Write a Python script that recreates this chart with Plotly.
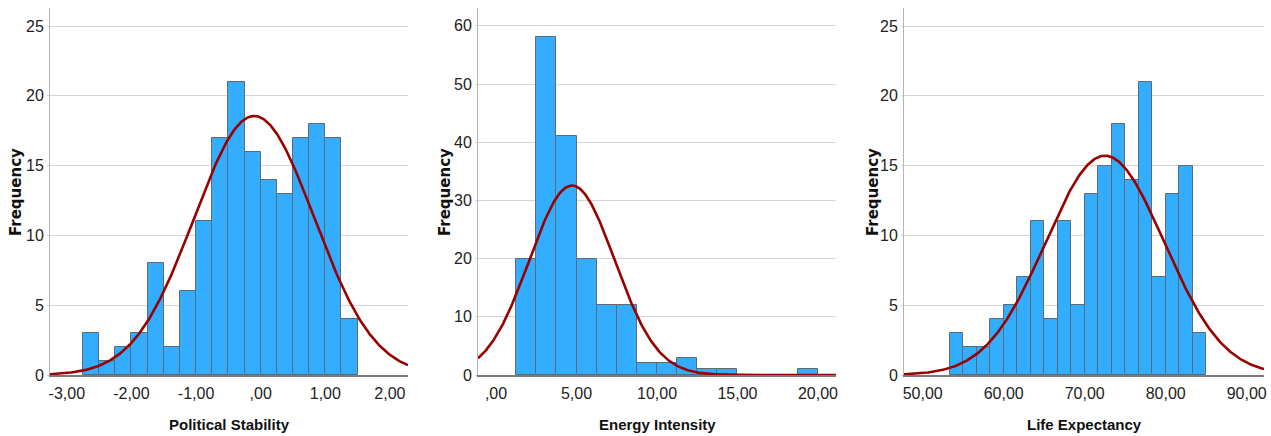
import numpy as np
import plotly.graph_objects as go

# ---------------- data ----------------
ps_counts = [3, 1, 2, 3, 8, 2, 6, 11, 17, 21, 16, 14, 13, 17, 18, 17, 4]
ps_bin_start = -2.75
ps_bin_width = 0.25
ps_mean, ps_sd = -0.10, 0.93

ei_counts = [20, 58, 41, 20, 12, 12, 2, 2, 3, 1, 1, 0, 0, 0, 1]
ei_bin_start = 1.25
ei_bin_width = 1.25
ei_mean, ei_sd = 4.72, 2.65

le_counts = [3, 2, 2, 4, 5, 7, 11, 4, 11, 5, 13, 15, 18, 14, 21, 7, 13, 15, 3]
le_bin_start = 53.37
le_bin_width = 1.664
le_mean, le_sd = 72.5, 7.31

ps_xticks = [-3, -2, -1, 0, 1, 2]
ps_xtext = ["-3,00", "-2,00", "-1,00", ",00", "1,00", "2,00"]
ei_xticks = [0, 5, 10, 15, 20]
ei_xtext = [",00", "5,00", "10,00", "15,00", "20,00"]
le_xticks = [50, 60, 70, 80, 90]
le_xtext = ["50,00", "60,00", "70,00", "80,00", "90,00"]

titles = ["Political Stability", "Energy Intensity", "Life Expectancy"]

panels = [
    dict(counts=ps_counts, start=ps_bin_start, w=ps_bin_width, mean=ps_mean, sd=ps_sd,
         xr=[-3.26, 2.28], yr=[0, 26.29], yt=[0, 5, 10, 15, 20, 25],
         xt=ps_xticks, xtt=ps_xtext, dom=[50, 408]),
    dict(counts=ei_counts, start=ei_bin_start, w=ei_bin_width, mean=ei_mean, sd=ei_sd,
         xr=[-1.12, 21.12], yr=[0, 63.06], yt=[0, 10, 20, 30, 40, 50, 60],
         xt=ei_xticks, xtt=ei_xtext, dom=[478, 836]),
    dict(counts=le_counts, start=le_bin_start, w=le_bin_width, mean=le_mean, sd=le_sd,
         xr=[47.69, 92.14], yr=[0, 26.29], yt=[0, 5, 10, 15, 20, 25],
         xt=le_xticks, xtt=le_xtext, dom=[904, 1264]),
]

W, H = 1271, 436
top_px, bot_px = 8, 375
ydom = [1 - bot_px / H, 1 - top_px / H]

fig = go.Figure()
tick_font = dict(family="Liberation Sans Narrow, Arial Narrow, Liberation Sans, Arial", size=16, color="#222222")

for i, p in enumerate(panels):
    n = i + 1
    xa = "x" if n == 1 else f"x{n}"
    ya = "y" if n == 1 else f"y{n}"
    counts = np.array(p["counts"], dtype=float)
    centers = p["start"] + p["w"] * (np.arange(len(counts)) + 0.5)
    fig.add_trace(go.Bar(
        x=centers, y=counts, width=p["w"],
        marker=dict(color="#33adff", line=dict(color="#5f6b73", width=1)),
        xaxis=xa, yaxis=ya, showlegend=False, hoverinfo="x+y"))
    total = counts.sum()
    xs = np.linspace(p["xr"][0], p["xr"][1], 400)
    ys = total * p["w"] / (p["sd"] * np.sqrt(2 * np.pi)) * np.exp(-0.5 * ((xs - p["mean"]) / p["sd"]) ** 2)
    fig.add_trace(go.Scatter(
        x=xs, y=ys, mode="lines", line=dict(color="#990000", width=2.6),
        xaxis=xa, yaxis=ya, showlegend=False, hoverinfo="skip", cliponaxis=True))

    xdom = [p["dom"][0] / W, p["dom"][1] / W]
    xkey = "xaxis" if n == 1 else f"xaxis{n}"
    ykey = "yaxis" if n == 1 else f"yaxis{n}"
    fig.update_layout(**{
        xkey: dict(domain=xdom, range=p["xr"], anchor=ya, tickmode="array",
                   tickvals=p["xt"], ticktext=p["xtt"], showgrid=False, zeroline=False,
                   showline=True, linecolor="#7a7a7a", linewidth=1.5,
                   ticks="outside", ticklen=3, tickcolor="rgba(0,0,0,0)",
                   tickfont=tick_font, automargin=False),
        ykey: dict(domain=ydom, range=p["yr"], anchor=xa, tickmode="array",
                   tickvals=p["yt"], ticktext=[str(v) for v in p["yt"]],
                   showgrid=True, gridcolor="#d4d4d4", gridwidth=1, zeroline=False,
                   showline=True, linecolor="#b5b5b5", linewidth=1,
                   ticks="outside", ticklen=2, tickcolor="#d4d4d4",
                   tickfont=tick_font, automargin=False),
    })
    # x title
    fig.add_annotation(text="<b>" + titles[i] + "</b>", xref="paper", yref="paper",
                       x=(p["dom"][0] + p["dom"][1]) / 2 / W, y=1 - 424 / H,
                       showarrow=False, xanchor="center", yanchor="middle",
                       font=dict(family="Liberation Sans Narrow, Arial Narrow, Liberation Sans", size=15, color="#111111"))

# y titles
for xpx in [16, 445, 873]:
    fig.add_annotation(text="<b>Frequency</b>", xref="paper", yref="paper",
                       x=xpx / W, y=1 - 192 / H, textangle=-90,
                       showarrow=False, xanchor="center", yanchor="middle",
                       font=dict(family="DejaVu Sans", size=15, color="#111111"))

fig.update_layout(width=W, height=H, margin=dict(l=0, r=0, t=0, b=0),
                  paper_bgcolor="white", plot_bgcolor="white", bargap=0)

fig.write_html("out.html", config={"displayModeBar": False},
               post_script="document.body.style.margin='0';document.body.style.overflow='hidden';")
